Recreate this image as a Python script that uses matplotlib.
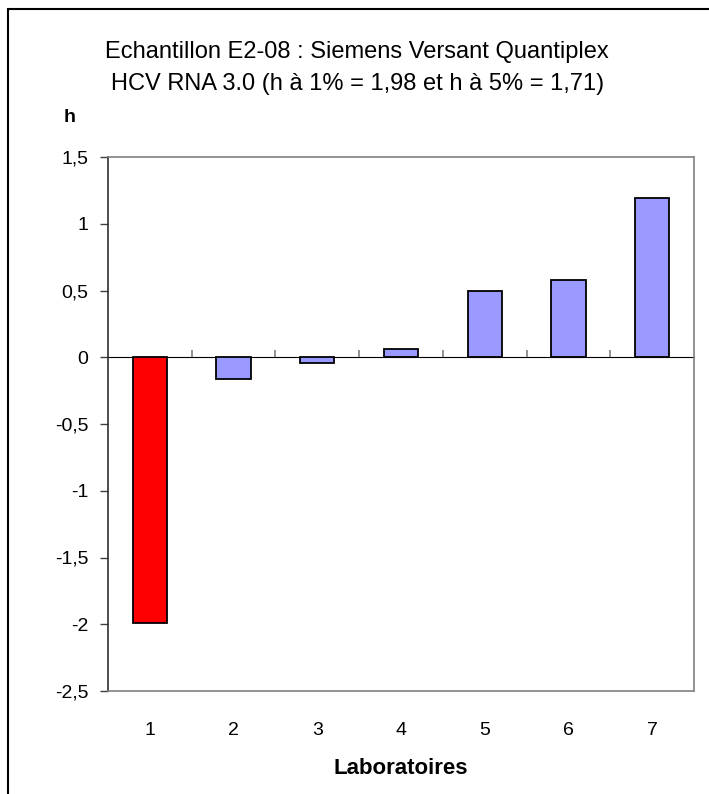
import matplotlib
matplotlib.use('Agg')
import matplotlib.pyplot as plt
import matplotlib.patches as mpatches
import matplotlib.ticker as mticker
import numpy as np

plt.rcParams['font.family'] = ['Liberation Sans', 'DejaVu Sans']

labos = ['1', '2', '3', '4', '5', '6', '7']
h_values = [-1.99, -0.16, -0.04, 0.06, 0.50, 0.58, 1.19]
bar_colors = ['#FF0000', '#9999FF', '#9999FF', '#9999FF', '#9999FF', '#9999FF', '#9999FF']
y_ticks = [-2.5, -2, -1.5, -1, -0.5, 0, 0.5, 1, 1.5]

W, H = 709, 794
fig = plt.figure(figsize=(W / 100, H / 100), dpi=100)

# outer chart frame (only left and top edges fall inside the image)
frame = mpatches.Rectangle((8 / W, -0.5), 2.0, 1.5 - 9 / H, transform=fig.transFigure,
                           fill=False, edgecolor='black', linewidth=1.5)
fig.add_artist(frame)

ax = fig.add_axes([108 / W, (H - 691) / H, (694 - 108) / W, (691 - 157) / H])

x = np.arange(1, len(labos) + 1)
ax.bar(x, h_values, width=0.41, color=bar_colors, edgecolor='black', linewidth=1.3, zorder=3)

ymin, ymax = -2.5, 1.5
ax.set_xlim(0.5, len(labos) + 0.5)
ax.set_ylim(ymin, ymax)

ax.set_yticks(y_ticks)
ax.yaxis.set_major_formatter(mticker.FuncFormatter(
    lambda v, p: ('%g' % v).replace('.', ',')))
ax.tick_params(axis='y', direction='out', length=6, width=1, color='#404040',
               labelsize=14, pad=8)

ax.set_xticks(x)
ax.set_xticklabels(labos)
ax.tick_params(axis='x', length=0, labelsize=14, pad=22)

for side in ['top', 'right', 'bottom']:
    ax.spines[side].set_color('#808080')
    ax.spines[side].set_linewidth(1.2)
ax.spines['left'].set_color('#303030')
ax.spines['left'].set_linewidth(1.2)

# category axis crossing at zero, with ticks between categories
zero_pos = (0 - ymin) / (ymax - ymin)
cat_axis = ax.secondary_xaxis(zero_pos)
cat_axis.set_xticks(x[:-1] + 0.5)
cat_axis.set_xticklabels([])
cat_axis.tick_params(direction='out', length=5, width=1.2, color='#808080')
cat_axis.spines['bottom'].set_color('#808080')
cat_axis.spines['bottom'].set_linewidth(1.2)

fig.text(357 / W, 1 - 58 / H, 'Echantillon E2-08 : Siemens Versant Quantiplex',
         ha='center', va='baseline', fontsize=17)
fig.text(358 / W, 1 - 90 / H, 'HCV RNA 3.0 (h à 1% = 1,98 et h à 5% = 1,71)',
         ha='center', va='baseline', fontsize=17)
fig.text(70 / W, 1 - 122 / H, 'h', ha='center', va='baseline', fontsize=14,
         fontweight='bold')
fig.text(401 / W, 1 - 774 / H, 'Laboratoires', ha='center', va='baseline',
         fontsize=16, fontweight='bold')

fig.savefig('out.png', dpi=100)
